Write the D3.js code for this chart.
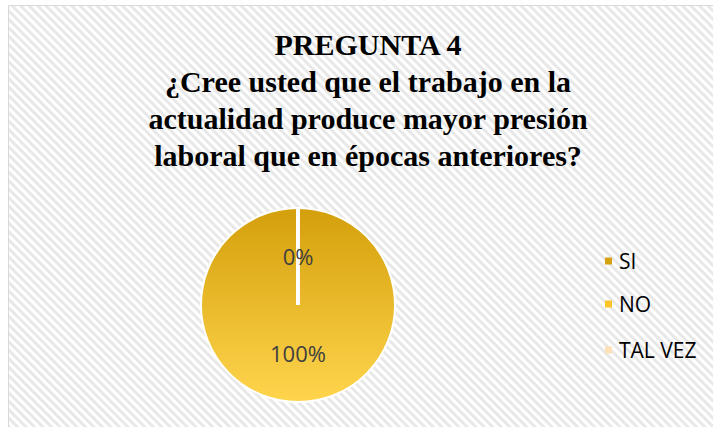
<!DOCTYPE html>
<html>
<head>
<meta charset="utf-8">
<title>PREGUNTA 4</title>
<script src="https://cdn.jsdelivr.net/npm/d3@7/dist/d3.min.js"></script>
<style>
  body { margin: 0; background: #fff; }
  svg { display: block; }
</style>
</head>
<body>
<script>
// data
var categories = ["SI", "NO", "TAL VEZ"];
var values = [0, 100, null];
var titleLines = ["PREGUNTA 4",
  "¿Cree usted que el trabajo en la",
  "actualidad produce mayor presión",
  "laboral que en épocas anteriores?"];

var width = 713, height = 427;
var cx = 298, cy = 305, radius = 97;
var serif = "Liberation Serif, Times New Roman, serif";
var sans = "Open Sans, Noto Sans, sans-serif";

var svg = d3.select("body").append("svg")
    .attr("width", width)
    .attr("height", height);

var defs = svg.append("defs");

// diagonal stripe background
var pat = defs.append("pattern")
    .attr("id", "stripes")
    .attr("patternUnits", "userSpaceOnUse")
    .attr("width", 6).attr("height", 6)
    .attr("patternTransform", "rotate(45)");
pat.append("rect").attr("width", 6).attr("height", 6).attr("fill", "#ffffff");
pat.append("rect").attr("width", 6).attr("height", 3).attr("fill", "#e8e8e8");

// gradients for slices / legend keys
var grads = [
  { id: "g0", top: "#d19c08", bottom: "#f2bd35" },
  { id: "g1", top: "#d49f0b", bottom: "#ffd54d" },
  { id: "g2", top: "#fbd9a6", bottom: "#ffe9c4" }
];
grads.forEach(function (g) {
  var lg = defs.append("linearGradient")
      .attr("id", g.id)
      .attr("x1", 0).attr("y1", 0).attr("x2", 0).attr("y2", 1);
  lg.append("stop").attr("offset", "0%").attr("stop-color", g.top);
  lg.append("stop").attr("offset", "100%").attr("stop-color", g.bottom);
});
var legendFill = ["#d7a212", "#fbc52a", "#fde0b4"];

svg.append("rect")
    .attr("x", 8.5).attr("y", 5.5)
    .attr("width", 720).attr("height", 440)
    .attr("fill", "url(#stripes)")
    .attr("stroke", "#d9d9d9");

// title
var title = svg.append("text")
    .attr("text-anchor", "middle")
    .attr("font-family", serif)
    .attr("font-weight", "bold")
    .attr("font-size", 30)
    .attr("fill", "#000");
titleLines.forEach(function (t, i) {
  title.append("tspan")
      .attr("x", 368)
      .attr("y", 55 + i * 37)
      .text(t);
});

// pie
var table = categories.map(function (c, i) { return { cat: c, value: values[i] || 0, raw: values[i] }; });
var pie = d3.pie().sort(null).value(function (d) { return d.value; });
var arcs = pie(table);
var arc = d3.arc().innerRadius(0).outerRadius(radius);
var labelArc = d3.arc().innerRadius(radius * 0.55).outerRadius(radius * 0.45);

var g = svg.append("g").attr("transform", "translate(" + cx + "," + cy + ")");

g.selectAll("path.slice")
    .data(arcs)
    .enter().append("path")
    .attr("class", "slice")
    .attr("d", arc)
    .attr("fill", function (d, i) { return "url(#g" + i + ")"; })
    .attr("stroke", "#fff")
    .attr("stroke-width", 2);

// white edge where the slices meet
arcs.forEach(function (d) {
  if (d.value > 0 && d.endAngle - d.startAngle >= 2 * Math.PI - 1e-6) {
    var p = d3.pointRadial(d.startAngle, radius);
    g.append("line")
        .attr("x1", 0).attr("y1", 0)
        .attr("x2", p[0]).attr("y2", p[1])
        .attr("stroke", "#fff")
        .attr("stroke-width", 4);
  }
});

var total = d3.sum(table, function (d) { return d.value; });
g.selectAll("text.lbl")
    .data(arcs.filter(function (d) { return d.data.raw !== null; }))
    .enter().append("text")
    .attr("class", "lbl")
    .attr("transform", function (d) {
      var c = labelArc.centroid(d);
      return "translate(" + c[0] + "," + (c[1] + 8) + ")";
    })
    .attr("text-anchor", "middle")
    .attr("font-family", sans)
    .attr("font-size", 22)
    .attr("fill", "#404040")
    .text(function (d) { return Math.round(d.value / total * 100) + "%"; });

// legend
var legend = svg.append("g").attr("transform", "translate(605,0)");
var legY = [261, 304, 350];
var item = legend.selectAll("g.item")
    .data(categories)
    .enter().append("g")
    .attr("class", "item")
    .attr("transform", function (d, i) { return "translate(0," + legY[i] + ")"; });
item.append("rect")
    .attr("x", 0).attr("y", -3.5)
    .attr("width", 7).attr("height", 7)
    .attr("fill", function (d, i) { return legendFill[i]; });
item.append("text")
    .attr("x", 14).attr("y", 7.5)
    .attr("font-family", sans)
    .attr("font-size", 21)
    .attr("fill", "#000")
    .text(function (d) { return d; });
</script>
</body>
</html>
